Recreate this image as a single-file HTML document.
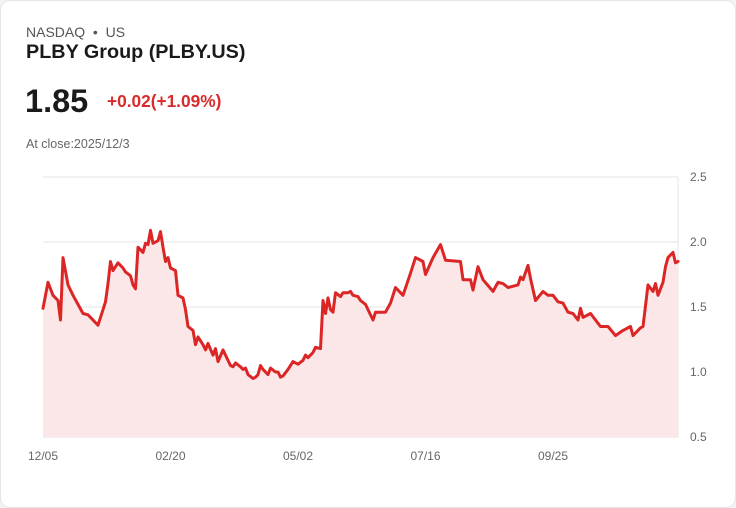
<!DOCTYPE html>
<html><head><meta charset="utf-8"><style>
body{margin:0;background:#f3f4f6;font-family:"Liberation Sans",sans-serif;}
.card{position:absolute;left:0;top:0;width:734px;height:506px;border:1px solid #e3e6ea;border-radius:10px;background:#fff;}
.t{position:absolute;white-space:nowrap;}
</style></head><body>
<div class="card">
<div class="t" style="left:25px;top:23px;font-size:14px;color:#555;">NASDAQ &nbsp;•&nbsp; US</div>
<div class="t" style="left:25px;top:40px;font-size:19.8px;font-weight:bold;color:#1a1a1a;">PLBY Group (PLBY.US)</div>
<div class="t" style="left:24px;top:82px;font-size:32.5px;font-weight:bold;color:#1a1a1a;">1.85</div>
<div class="t" style="left:106px;top:90px;font-size:17.3px;font-weight:bold;color:#d92b2b;">+0.02(+1.09%)</div>
<div class="t" style="left:25px;top:136px;font-size:12.5px;color:#666;">At close:2025/12/3</div>
<svg id="chart" width="736" height="508" style="position:absolute;left:-1px;top:-1px;"></svg>
</div>
<script>
const days=[0,2,4,6,7,8,10,12,14,16,18,20,22,23,25,26,27,28,30,32,33,35,36,37,38,40,41,42,43,44,46,47,48,49,50,51,53,54,56,57,58,60,61,62,64,65,66,68,69,70,72,73,75,76,77,79,80,81,82,84,85,86,87,88,90,91,93,94,95,96,98,100,101,102,104,105,106,108,109,111,112,113,114,115,116,117,119,120,122,123,124,126,127,129,132,133,137,139,141,144,147,149,152,153,156,159,161,167,168,171,172,174,176,180,182,184,186,190,191,192,194,195,197,200,202,204,206,208,210,212,214,215,216,219,223,226,229,232,235,236,239,240,242,244,245,246,248,249,250,252,253,254];
const prices=[1.49,1.69,1.59,1.55,1.40,1.88,1.67,1.59,1.52,1.45,1.44,1.40,1.36,1.42,1.54,1.68,1.85,1.78,1.84,1.80,1.77,1.74,1.67,1.64,1.96,1.92,1.99,1.98,2.09,1.99,2.01,2.08,1.96,1.85,1.88,1.80,1.78,1.59,1.57,1.48,1.35,1.32,1.21,1.27,1.21,1.17,1.22,1.13,1.18,1.08,1.17,1.13,1.05,1.04,1.07,1.04,1.02,1.03,0.98,0.95,0.96,0.98,1.05,1.02,0.98,1.03,1.00,1.00,0.96,0.97,1.02,1.08,1.07,1.06,1.09,1.13,1.11,1.15,1.19,1.18,1.55,1.45,1.57,1.48,1.46,1.61,1.58,1.61,1.61,1.62,1.59,1.58,1.55,1.52,1.40,1.46,1.46,1.53,1.65,1.59,1.76,1.88,1.85,1.75,1.88,1.98,1.86,1.85,1.71,1.71,1.63,1.81,1.71,1.62,1.69,1.68,1.65,1.67,1.73,1.71,1.82,1.72,1.55,1.62,1.59,1.59,1.54,1.53,1.46,1.45,1.40,1.49,1.42,1.45,1.35,1.35,1.28,1.32,1.35,1.28,1.34,1.35,1.67,1.62,1.68,1.59,1.69,1.81,1.88,1.92,1.84,1.85];
const yTicks=[2.5,2.0,1.5,1.0,0.5];
const yTickLabels=["2.5","2.0","1.5","1.0","0.5"];
const xTickDays=[0,51,102,153,204];
const xTickLabels=["12/05","02/20","05/02","07/16","09/25"];
const NS="http://www.w3.org/2000/svg";
const svg=document.getElementById('chart');
const X0=43,X1=678,Y0=437,Y1=177,D=254;
const sx=d=>X0+(X1-X0)*d/D;
const sy=v=>Y0-(v-0.5)/(2.5-0.5)*(Y0-Y1);
function mk(t,a){const e=document.createElementNS(NS,t);for(const k in a)e.setAttribute(k,a[k]);svg.appendChild(e);return e;}
yTicks.forEach((v,i)=>{
 const g=mk('line',{x1:X0,x2:X1,y1:sy(v),y2:sy(v),stroke:'#e4e4e4','stroke-width':1});
 
 
 const t=mk('text',{x:690,y:sy(v)+4,'font-size':12,fill:'#666','font-family':'Liberation Sans, sans-serif'});
 t.textContent=yTickLabels[i];
 
 
});
const ax=mk('line',{x1:X1,x2:X1,y1:Y1,y2:Y0,stroke:'#e4e4e4','stroke-width':1});


xTickDays.forEach((d,i)=>{
 const t=mk('text',{x:sx(d),y:460,'font-size':12,fill:'#666','text-anchor':'middle','font-family':'Liberation Sans, sans-serif'});
 t.textContent=xTickLabels[i];
 
 
});
let pts=days.map((d,i)=>sx(d).toFixed(1)+','+sy(prices[i]).toFixed(1));
const area=mk('path',{d:'M'+sx(days[0])+','+Y0+' L'+pts.join(' L')+' L'+sx(days[days.length-1])+','+Y0+' Z',fill:'#fbe7e7'});


const line=mk('path',{d:'M'+pts.join(' L'),fill:'none',stroke:'#dc2626','stroke-width':3,'stroke-linejoin':'round','stroke-linecap':'round'});


</script>
</body></html>
